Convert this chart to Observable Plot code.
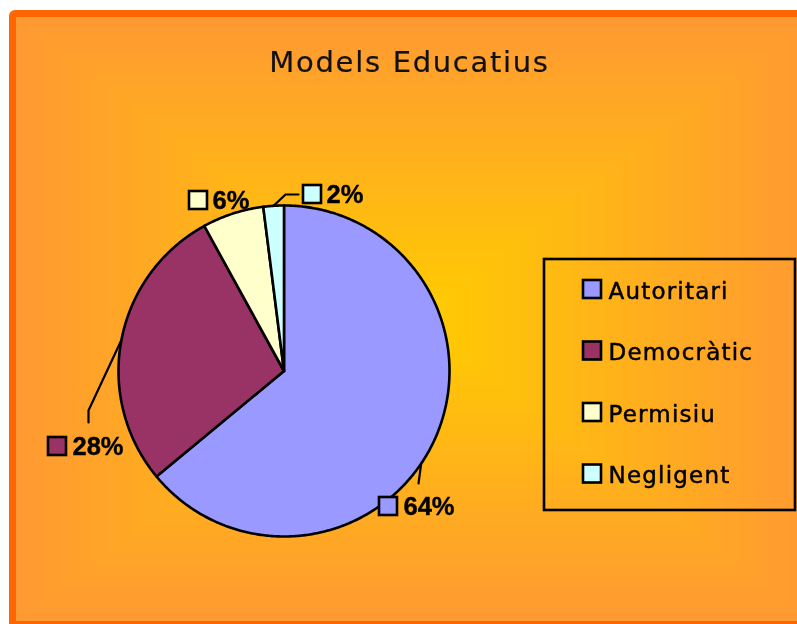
<!DOCTYPE html>
<html><head><meta charset="utf-8">
<script src="https://cdn.jsdelivr.net/npm/d3@7"></script>
<script src="https://cdn.jsdelivr.net/npm/@observablehq/plot@0.6"></script>
<style>
html,body{margin:0;padding:0;background:#fff;}
#wrap{position:relative;width:797px;height:624px;overflow:hidden;}
#bg{position:absolute;left:0;top:0;}
#chart{position:absolute;left:0;top:0;}
</style></head><body>
<div id="wrap"><canvas id="bg" width="797" height="624"></canvas><div id="chart"></div></div>
<script>
// ---- data ----
const title = "Models Educatius";
const categories = ["Autoritari", "Democràtic", "Permisiu", "Negligent"];
const values = [64, 28, 6, 2];
const colors = ["#9999FF", "#993366", "#FFFFCC", "#CCFFFF"];

// ---- layout ----
const W = 797, H = 624;
const cx = 283.5, cy = 370.5, R = 165.5;
const labelLayout = [
  {sx: 379, sy: 497, tx: 403, ty: 514, leadAngle: 124, leadPts: [[418, 483]]},
  {sx: 48,  sy: 437, tx: 72,  ty: 454, leadAngle: null, leadPts: [[88, 410], [88, 422]]},
  {sx: 189, sy: 191, tx: 212, ty: 208, leadAngle: undefined, leadPts: null},
  {sx: 303, sy: 185, tx: 326, ty: 202, leadAngle: null, leadPts: [[285, 194], [298, 194]]}
];
const legendBox = {x1: 544, y1: 259, x2: 795, y2: 510};
const legendItem = {sx: 583, sy0: 280, step: 61.5, size: 18, tx: 608};
const sq = 18;

// ---- background ----
(function () {
  const cv = document.getElementById("bg"), ctx = cv.getContext("2d");
  ctx.fillStyle = "#fff"; ctx.fillRect(0, 0, W, H);
  ctx.fillStyle = "#FF6600";
  ctx.beginPath();
  if (ctx.roundRect) ctx.roundRect(9, 10, 830, 619, 6); else ctx.rect(9, 10, 830, 619);
  ctx.fill();
  const x0 = 16, y0 = 17, x1 = 812, y1 = 621;
  const gcx = (x0 + x1) / 2, gcy = (y0 + y1) / 2, hw = (x1 - x0) / 2, hh = (y1 - y0) / 2;
  const img = ctx.getImageData(0, 0, W, H);
  const c0 = [255, 204, 0], c1 = [255, 153, 51];
  for (let y = y0; y < Math.min(y1, H); y++) {
    for (let x = x0; x < W; x++) {
      const t = Math.min(1, Math.max(Math.abs(x - gcx) / hw, Math.abs(y - gcy) / hh));
      const i = (y * W + x) * 4;
      img.data[i] = c0[0] + (c1[0] - c0[0]) * t;
      img.data[i + 1] = c0[1] + (c1[1] - c0[1]) * t;
      img.data[i + 2] = c0[2] + (c1[2] - c0[2]) * t;
      img.data[i + 3] = 255;
    }
  }
  ctx.putImageData(img, 0, 0);
})();

// ---- pie geometry from values ----
const arcs = d3.pie().sort(null).value(d => d)(values);
const pt = a => [cx + R * Math.sin(a), cy - R * Math.cos(a)];
const slicePts = [];
arcs.forEach((a, i) => {
  const n = Math.max(4, Math.ceil((a.endAngle - a.startAngle) / 0.01));
  slicePts.push({cat: categories[i], color: colors[i], x: cx, y: cy});
  for (let k = 0; k <= n; k++) {
    const [x, y] = pt(a.startAngle + (a.endAngle - a.startAngle) * k / n);
    slicePts.push({cat: categories[i], color: colors[i], x, y});
  }
  slicePts.push({cat: categories[i], color: colors[i], x: cx, y: cy});
});

const leaderPts = [];
labelLayout.forEach((L, i) => {
  if (!L.leadPts) return;
  const ang = L.leadAngle == null ? (arcs[i].startAngle + arcs[i].endAngle) / 2 : L.leadAngle * Math.PI / 180;
  const [x, y] = pt(ang);
  leaderPts.push({k: i, x, y});
  L.leadPts.forEach(([px, py]) => leaderPts.push({k: i, x: px, y: py}));
});

const pctData = values.map((v, i) => ({
  label: v + "%", color: colors[i],
  x1: labelLayout[i].sx, x2: labelLayout[i].sx + sq, y1: labelLayout[i].sy, y2: labelLayout[i].sy + sq,
  tx: labelLayout[i].tx, ty: labelLayout[i].ty
}));
const legData = categories.map((c, i) => ({
  name: c, color: colors[i],
  x1: legendItem.sx, x2: legendItem.sx + legendItem.size,
  y1: legendItem.sy0 + i * legendItem.step, y2: legendItem.sy0 + i * legendItem.step + legendItem.size,
  tx: legendItem.tx, ty: legendItem.sy0 + i * legendItem.step + legendItem.size
}));

const chart = Plot.plot({
  width: W, height: H,
  margin: 0, marginTop: 0, marginRight: 0, marginBottom: 0, marginLeft: 0,
  x: {domain: [0, W], range: [0, W], axis: null},
  y: {domain: [0, H], range: [0, H], axis: null},
  color: {type: "identity"},
  style: {background: "transparent", overflow: "visible"},
  marks: [
    Plot.line(slicePts, {x: "x", y: "y", z: "cat", fill: "color", stroke: "black", strokeWidth: 2.6, strokeLinejoin: "round", curve: "linear"}),
    Plot.line(leaderPts, {x: "x", y: "y", z: "k", stroke: "black", strokeWidth: 2.2, curve: "linear"}),
    Plot.rect(pctData, {x1: "x1", x2: "x2", y1: "y1", y2: "y2", fill: "color", stroke: "black", strokeWidth: 2.6}),
    Plot.text(pctData, {x: "tx", y: "ty", text: "label", textAnchor: "start", lineAnchor: "bottom", fontSize: 25.5, fontWeight: "bold", fontFamily: "Liberation Sans, Arial, sans-serif", fill: "black", stroke: "black", strokeWidth: 0.4}),
    Plot.rect([legendBox], {x1: "x1", x2: "x2", y1: "y1", y2: "y2", fill: "none", stroke: "black", strokeWidth: 2.6}),
    Plot.rect(legData, {x1: "x1", x2: "x2", y1: "y1", y2: "y2", fill: "color", stroke: "black", strokeWidth: 2.6}),
    Plot.text(legData, {x: "tx", y: "ty", text: "name", textAnchor: "start", lineAnchor: "bottom", fontSize: 23, fontFamily: "DejaVu Sans, Verdana, sans-serif", fill: "black", stroke: "black", strokeWidth: 0.5, ariaDescription: "legendtext"}),
    Plot.text([title], {x: () => 409, y: () => 71, text: d => d, textAnchor: "middle", lineAnchor: "bottom", fontSize: 29, fontFamily: "DejaVu Sans, Verdana, sans-serif", fill: "#111", stroke: "#111", strokeWidth: 0.2, ariaDescription: "titletext"})
  ]
});
chart.querySelectorAll('g[aria-description="legendtext"] text').forEach(t => t.setAttribute("letter-spacing", "1.2px"));
chart.querySelectorAll('g[aria-description="titletext"] text').forEach(t => t.setAttribute("letter-spacing", "1.7px"));
document.getElementById("chart").appendChild(chart);
</script>
</body></html>
